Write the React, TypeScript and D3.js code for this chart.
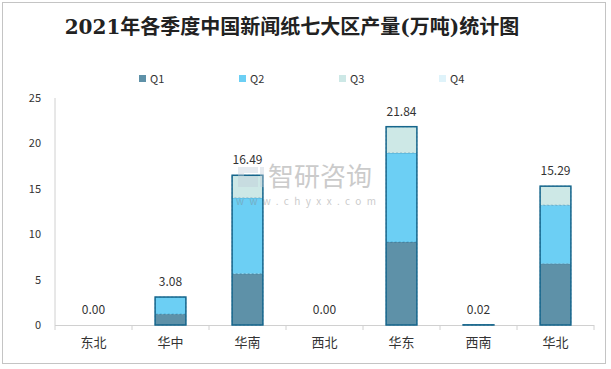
import * as d3 from "d3";

const regions = ["东北", "华中", "华南", "西北", "华东", "西南", "华北"];
const quarters = ["Q1", "Q2", "Q3", "Q4"];
const q1 = [0, 1.2, 5.65, 0, 9.14, 0.02, 6.75];
const q2 = [0, 1.88, 8.35, 0, 9.8, 0, 6.45];
const q3 = [0, 0, 2.49, 0, 2.9, 0, 2.09];
const q4 = [0, 0, 0, 0, 0, 0, 0];
const totals = ["0.00", "3.08", "16.49", "0.00", "21.84", "0.02", "15.29"];
const yTicks = [0, 5, 10, 15, 20, 25];

const colors = ["#5e91a8", "#6ccff4", "#cde8e6", "#dff3fa"];
const outline = "#16668c";

const W = 611;
const H = 369;
const m = { left: 55, right: 17, top: 98, bottom: 44 };

export default function App() {
  const series = [q1, q2, q3, q4];
  const x = d3.scaleBand().domain(regions).range([m.left, W - m.right]).paddingInner(0.6).paddingOuter(0.3);
  const xb = d3.scaleBand().domain(regions).range([m.left, W - m.right]);
  const y = d3.scaleLinear().domain([0, 25]).range([H - m.bottom, m.top]);

  const table = regions.map((r, i) => {
    const row: Record<string, any> = { region: r };
    quarters.forEach((q, k) => (row[q] = series[k][i]));
    return row;
  });
  const stacked = d3.stack().keys(quarters)(table as any);

  const font = "'Microsoft YaHei', 'Noto Sans CJK SC', 'DejaVu Sans', sans-serif";
  const legendX = d3.scalePoint().domain(quarters).range([139, 439]);

  return (
    <svg width={W} height={H} style={{ position: "absolute", left: 0, top: 0, background: "#fff" }} fontFamily={font}>
      <rect x={2.5} y={2.5} width={603} height={361} fill="#fff" stroke="#c4c4c4" />
      <text x={292} y={34} textAnchor="middle" fontSize={20} fontWeight="bold" fill="#222"
        fontFamily="'DejaVu Serif', 'Noto Sans CJK SC', serif">
        2021年各季度中国新闻纸七大区产量(万吨)统计图
      </text>

      {quarters.map((q, k) => (
        <g key={q} transform={`translate(${legendX(q)},75)`}>
          <rect x={0} y={0} width={7} height={7} fill={colors[k]} />
          <text x={11} y={7.5} fontSize={11} fill="#333">{q}</text>
        </g>
      ))}

      <line x1={m.left} x2={m.left} y1={m.top} y2={H - m.bottom} stroke="#d0d0d0" />
      <line x1={m.left} x2={W - m.right} y1={H - m.bottom + 0.5} y2={H - m.bottom + 0.5} stroke="#d0d0d0" />
      {regions.concat([""]).map((r, i) => {
        const px = m.left + i * xb.bandwidth();
        return <line key={i} x1={px} x2={px} y1={H - m.bottom} y2={H - m.bottom + 5} stroke="#d0d0d0" />;
      })}
      {yTicks.map((t) => (
        <text key={t} x={41} y={y(t) + 4} textAnchor="end" fontSize={11} fill="#333">{t}</text>
      ))}
      {regions.map((r) => (
        <text key={r} x={(xb(r) as number) + xb.bandwidth() / 2} y={347} textAnchor="middle" fontSize={13} fill="#333">{r}</text>
      ))}

      {stacked.map((s, k) => (
        <g key={s.key}>
          {s.map((d, i) => {
            const h = y(d[0]) - y(d[1]);
            if (h <= 0) return null;
            return (
              <rect key={i} x={x(regions[i])} y={y(d[1])} width={x.bandwidth()} height={h} fill={colors[k]}
                stroke={outline} strokeWidth={0.6} strokeDasharray="2,2" strokeOpacity={0.6} />
            );
          })}
        </g>
      ))}
      {regions.map((r, i) => {
        const total = d3.sum(series, (s) => s[i]);
        const top = y(total);
        return (
          <g key={r}>
            {total > 0 && (
              <rect x={x(r)} y={top} width={x.bandwidth()} height={y(0) - top} fill="none" stroke={outline} strokeWidth={1.5} />
            )}
            <text x={(x(r) as number) + x.bandwidth() / 2} y={top - 11} textAnchor="middle" fontSize={12} fill="#333">
              {totals[i]}
            </text>
          </g>
        );
      })}

      {/* watermark, drawn over the bars */}
      <g opacity={0.4}>
        <path d="M238,167 h20 v6 h-14 v3 h14 v11 h-20 z" fill="#c0ccd8" />
        <rect x={260} y={167} width={4} height={20} fill="#c0ccd8" />
        <text x={268} y={186} fontSize={26} fill="#808080">智研咨询</text>
        <text x={236} y={205} fontSize={10} fill="#808080" textLength={140}>www.chyxx.com</text>
      </g>
    </svg>
  );
}
